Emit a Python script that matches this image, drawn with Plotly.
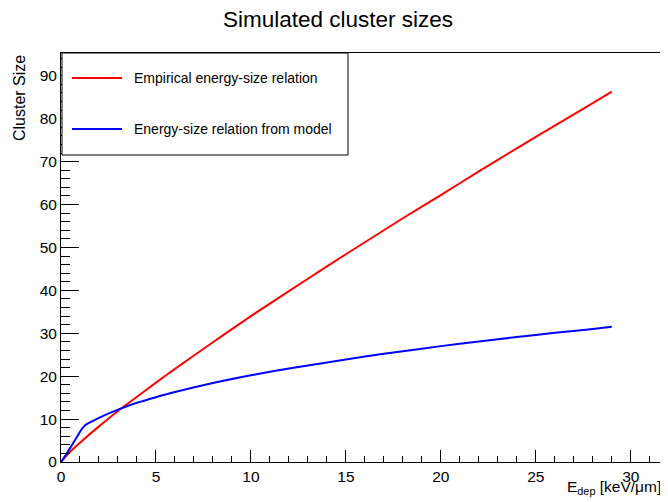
import plotly.graph_objects as go

# ---- data ----
edep_red = [0, 0.5, 1, 2, 3, 4, 5, 6, 8, 10, 12, 14, 16, 18, 20, 22, 24, 26, 28, 29]
size_red = [0, 2.5, 4.5, 8.3, 11.9, 15.2, 18.5, 21.7, 27.9, 34.0, 39.8, 45.6, 51.2, 56.8, 62.2, 67.7, 73.1, 78.4, 83.6, 86.3]

edep_blue = [0, 0.3, 0.6, 0.9, 1.1, 1.3, 1.6, 2, 3, 4, 5, 6, 8, 10, 12, 14, 16, 18, 20, 22, 24, 26, 28, 29]
size_blue = [0, 2.0, 4.1, 6.3, 7.7, 8.7, 9.4, 10.3, 12.2, 13.8, 15.1, 16.3, 18.4, 20.2, 21.8, 23.2, 24.6, 25.8, 27.0, 28.1, 29.1, 30.1, 31.0, 31.5]

name_red = "Empirical energy-size relation"
name_blue = "Energy-size relation from model"
title_text = "Simulated cluster sizes"
x_title = "E<sub>dep</sub> [keV/\u03bcm]"
y_title = "Cluster Size"

FONT = "Liberation Sans, Arial, Helvetica, sans-serif"

fig = go.Figure()
fig.add_trace(go.Scatter(x=edep_red, y=size_red, mode="lines", name=name_red,
                         line=dict(color="#ff0000", width=2, shape="spline", smoothing=0.6),
                         showlegend=False))
fig.add_trace(go.Scatter(x=edep_blue, y=size_blue, mode="lines", name=name_blue,
                         line=dict(color="#0000ff", width=2, shape="spline", smoothing=0.6),
                         showlegend=False))

axis_common = dict(showgrid=False, zeroline=False, showline=True, linecolor="black",
                   linewidth=1, mirror=True, ticks="inside", tickcolor="black",
                   tickwidth=1, tickfont=dict(family=FONT, size=15.5, color="black"))

fig.update_xaxes(range=[0, 31.75], tick0=0, dtick=5, ticklen=12,
                 minor=dict(ticks="inside", dtick=1, ticklen=6, tickcolor="black"),
                 **axis_common)
fig.update_yaxes(range=[0, 95.3], tick0=0, dtick=10, ticklen=18,
                 minor=dict(ticks="inside", dtick=2, ticklen=9, tickcolor="black"),
                 **axis_common)

# plot area in window pixels: x 61..664, y 53..462
def px_x(p):
    return (p - 61) / (664 - 61)
def px_y(p):
    return (462 - p) / (462 - 53)

# manual ROOT-style legend box
shapes = [
    dict(type="rect", xref="paper", yref="paper", x0=px_x(62), x1=px_x(348),
         y0=px_y(155), y1=1.0,
         line=dict(color="black", width=1), fillcolor="white", layer="above"),
    dict(type="line", xref="paper", yref="paper", x0=px_x(72), x1=px_x(122),
         y0=px_y(78), y1=px_y(78), line=dict(color="#ff0000", width=2), layer="above"),
    dict(type="line", xref="paper", yref="paper", x0=px_x(72), x1=px_x(122),
         y0=px_y(129), y1=px_y(129), line=dict(color="#0000ff", width=2), layer="above"),
]

annotations = [
    dict(text=name_red, xref="paper", yref="paper", x=px_x(132), y=px_y(78),
         xanchor="left", yanchor="middle", showarrow=False,
         font=dict(family=FONT, size=14, color="black")),
    dict(text=name_blue, xref="paper", yref="paper", x=px_x(132), y=px_y(129),
         xanchor="left", yanchor="middle", showarrow=False,
         font=dict(family=FONT, size=14, color="black")),
    dict(text=x_title, xref="paper", yref="paper", x=px_x(565), y=px_y(476),
         xanchor="left", yanchor="top", showarrow=False,
         font=dict(family=FONT, size=15.5, color="black")),
    dict(text=y_title, xref="paper", yref="paper", x=px_x(19), y=1.0,
         xanchor="center", yanchor="top", textangle=-90, showarrow=False,
         font=dict(family=FONT, size=16, color="black")),
]

# the page body has an 8px margin, so the figure is made 8px smaller and offset
fig.update_layout(
    width=660, height=494,
    margin=dict(l=53, r=4, t=45, b=40),
    paper_bgcolor="white", plot_bgcolor="white",
    title=dict(text=title_text, x=0.5, xanchor="center", y=1 - 11 / 494, yanchor="middle",
               font=dict(family=FONT, size=22.5, color="black")),
    shapes=shapes, annotations=annotations,
)

fig.write_html("out.html")
